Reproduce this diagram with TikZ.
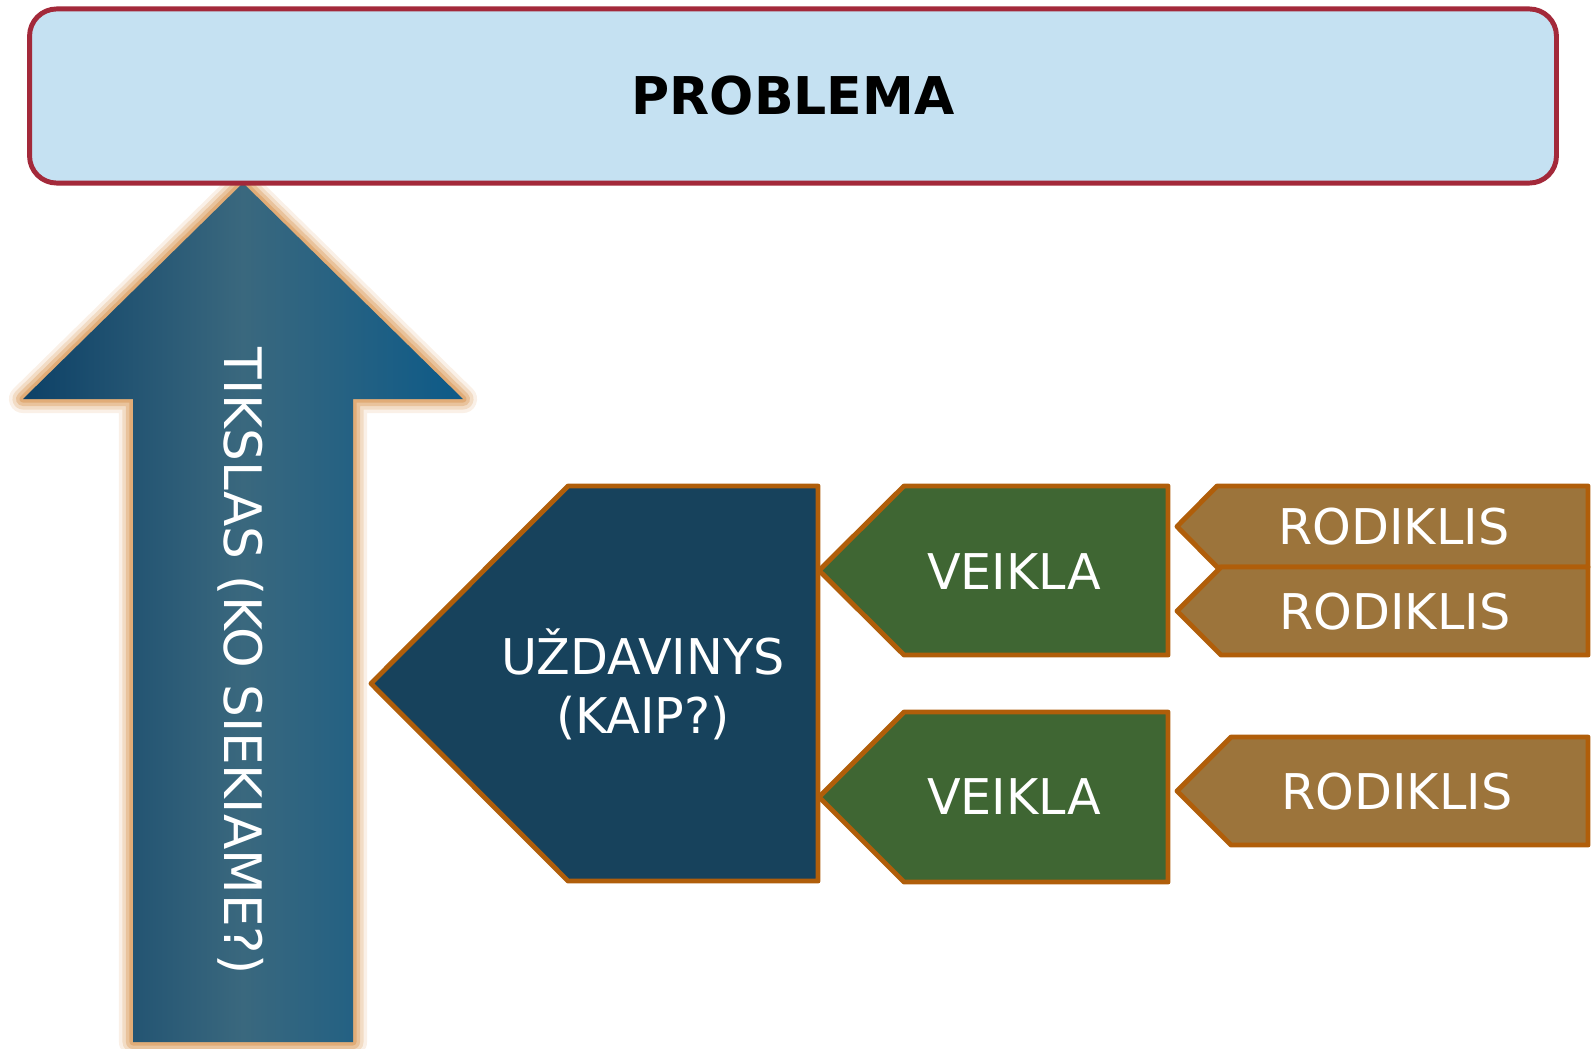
\documentclass[tikz,border=0pt]{standalone}
\usepackage{fontspec}
\setmainfont{DejaVu Sans}
\usetikzlibrary{positioning,shadings}
\definecolor{probfill}{HTML}{C5E1F2}
\definecolor{probline}{HTML}{A3293A}
\definecolor{edgec}{HTML}{B05E0A}
\definecolor{taskc}{HTML}{17425C}
\definecolor{actc}{HTML}{3F6633}
\definecolor{indc}{HTML}{9C743B}
\definecolor{glowc}{HTML}{DB9D5E}
\definecolor{goalL}{HTML}{0D4167}
\definecolor{goalM}{HTML}{3A687E}
\definecolor{goalR}{HTML}{0D5A88}
\tikzset{shapebox/.style={draw=edgec, line width=1.4pt, line join=round}}
\tikzset{probbox/.style={draw=probline, fill=probfill, line width=1.4pt,
    rounded corners=7.7pt, minimum width=15.26cm, minimum height=1.74cm}}
\tikzset{lbl/.style={font=\fontsize{14}{16.8}\selectfont, text=white, inner sep=0pt}}

\begin{document}
\begin{tikzpicture}[x=0.01cm, y=-0.01cm]
    \useasboundingbox (0,0) rectangle (1591,1048);

    %%%% Goal arrow, glow first
    \foreach \w/\o in {8/0.15, 6/0.25, 4/0.4, 2/0.6}
      \draw[glowc, opacity=\o, line width=\w pt, line join=round]
        (243,183) -- (463,399) -- (353,399) -- (353,1042) -- (133,1042) -- (133,399) -- (23,399) -- cycle;
    \path[left color=goalL, right color=goalR, middle color=goalM]
        (243,183) -- (463,399) -- (353,399) -- (353,1042) -- (133,1042) -- (133,399) -- (23,399) -- cycle;

    %%%% Problem box
    \node[probbox] (prob) at (793,96) {};
    \node[lbl, text=black, font=\fontsize{14.8}{17}\selectfont\bfseries] (probtext) at (prob.center) {PROBLEMA};

    %%%% Task
    \path[shapebox, fill=taskc] (371,683.5) -- (568,486) -- (818,486) -- (818,881) -- (568,881) -- cycle;

    %%%% Activities
    \path[shapebox, fill=actc] (819,570.5) -- (904,486) -- (1168,486) -- (1168,655) -- (904,655) -- cycle;
    \path[shapebox, fill=actc] (819,797) -- (904,712) -- (1168,712) -- (1168,882) -- (904,882) -- cycle;

    %%%% Indicators
    \path[shapebox, fill=indc] (1177,526.5) -- (1217,486) -- (1588,486) -- (1588,567) -- (1217,567) -- cycle;
    \path[shapebox, fill=indc] (1177,611) -- (1221,567) -- (1588,567) -- (1588,655) -- (1221,655) -- cycle;
    \path[shapebox, fill=indc] (1177,791) -- (1231,737) -- (1588,737) -- (1588,845) -- (1231,845) -- cycle;

    %%%% Labels
    \node[lbl, rotate=-90, font=\fontsize{14.7}{17}\selectfont] (goal) at (241,661) {TIKSLAS (KO SIEKIAME?)};
    \node[lbl, align=center] (task) at (643,684) {UŽDAVINYS\\(KAIP?)};
    \node[lbl] (act1) at (1014,572) {VEIKLA};
    \node[lbl] (act2) at (1014,797) {VEIKLA};
    \node[lbl] (ind1) at (1394,527) {RODIKLIS};
    \node[lbl] (ind2) at (1395,612) {RODIKLIS};
    \node[lbl] (ind3) at (1397,792) {RODIKLIS};

\end{tikzpicture}
\end{document}
